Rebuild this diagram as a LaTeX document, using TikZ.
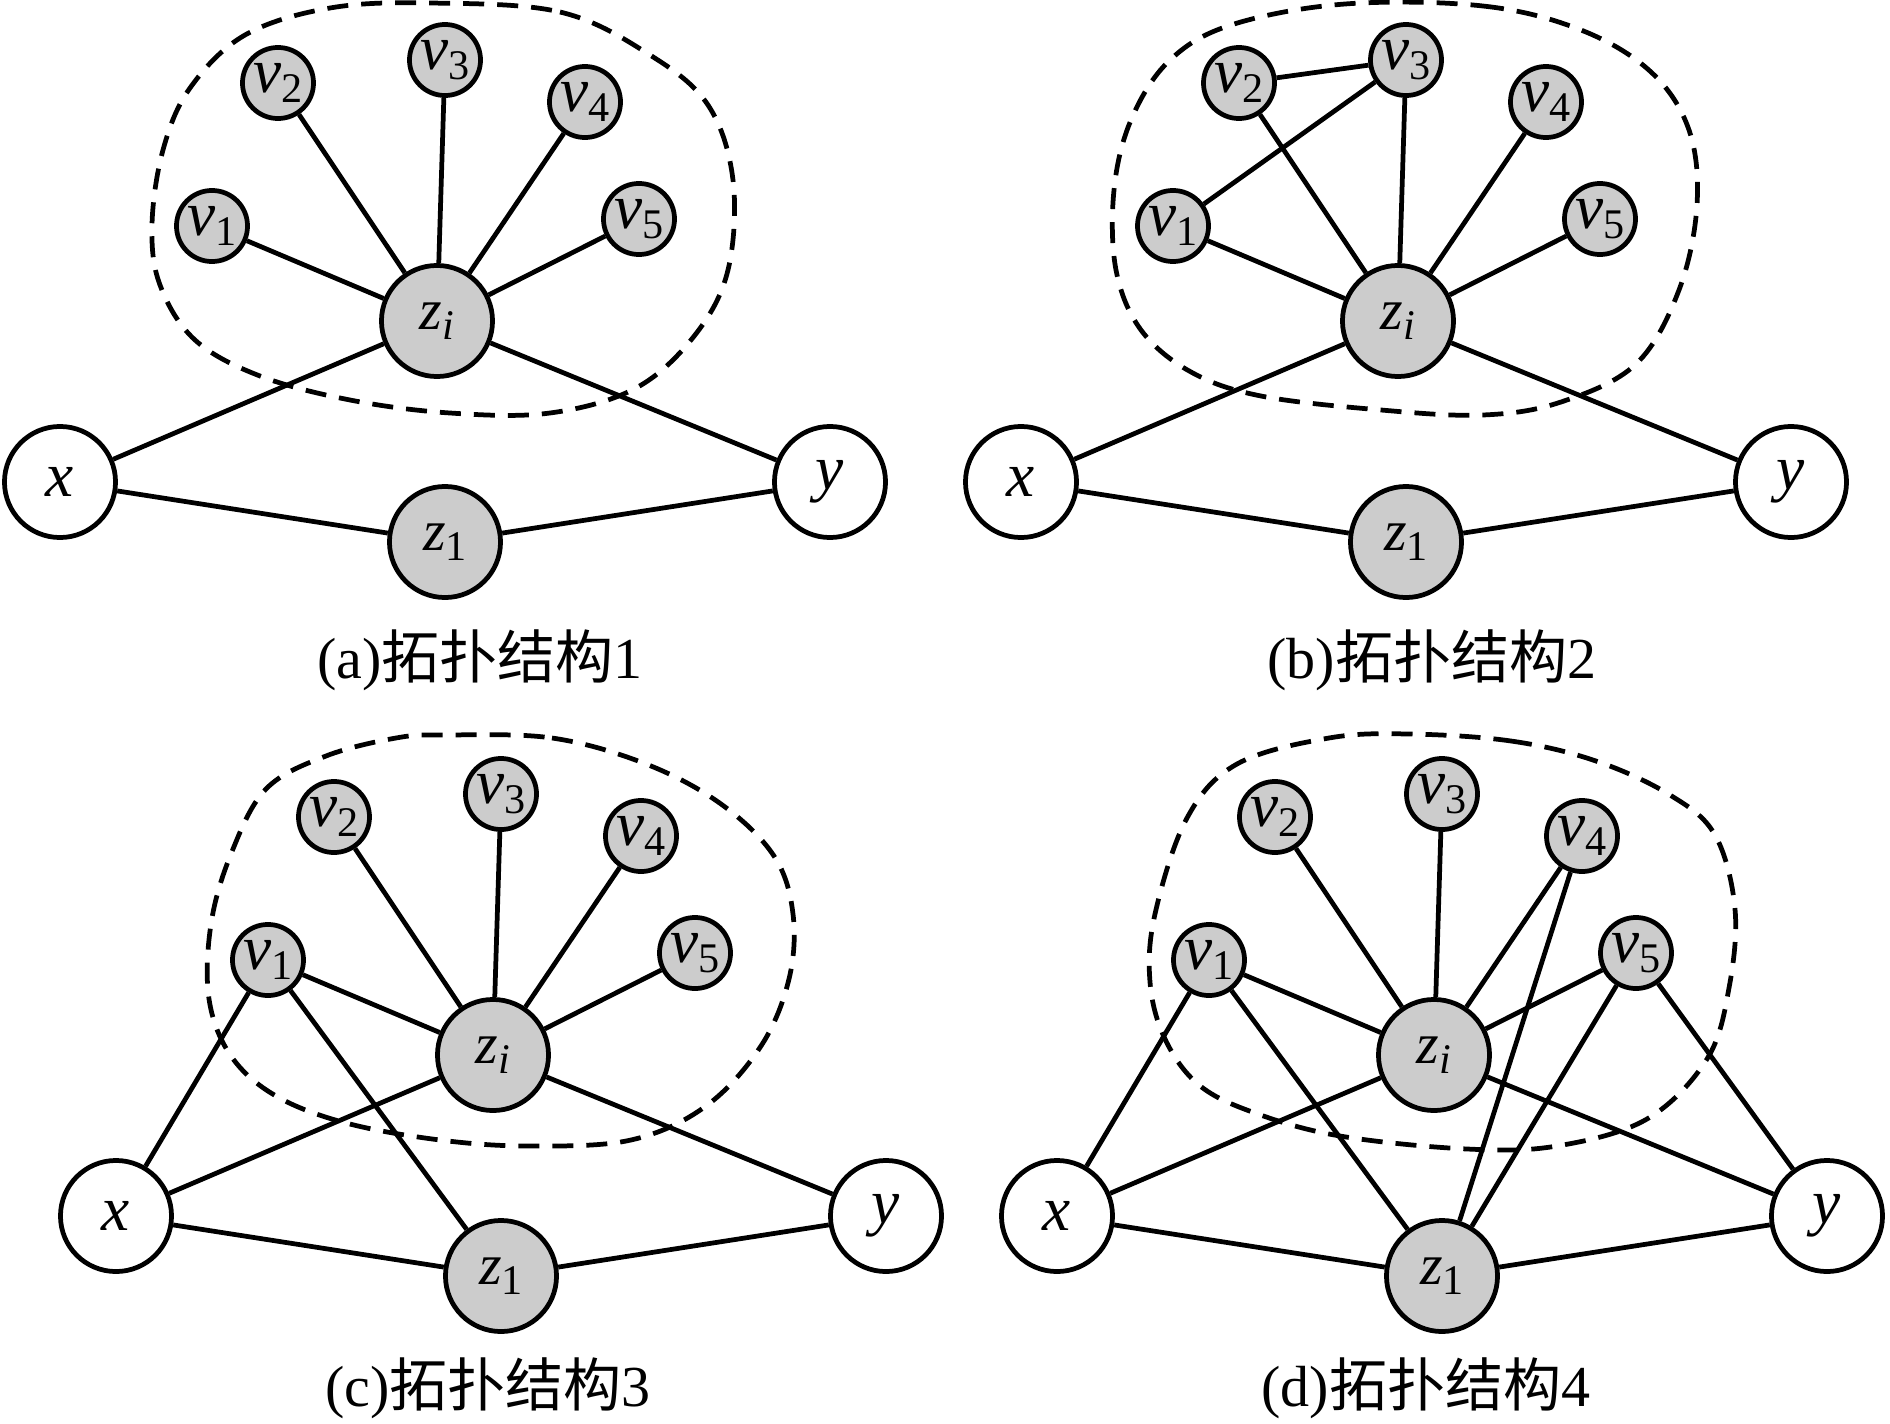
\documentclass[tikz,border=0pt]{standalone}
\usepackage{fontspec}
\setmainfont{Liberation Serif}
\newfontfamily\cjk{Noto Sans CJK SC}

% vertex labels
\newcommand{\vname}[1]{{\fontsize{18}{18}\selectfont\itshape v}\raisebox{-3pt}{\fontsize{12}{12}\selectfont #1}}
\newcommand{\zname}[1]{{\fontsize{16.5}{16.5}\selectfont\itshape z}\raisebox{-3pt}{\fontsize{12}{12}\selectfont #1}}
\newcommand{\tname}[1]{{\fontsize{18}{18}\selectfont\itshape #1}}

\begin{document}
\begin{tikzpicture}[
        x=0.01cm, y=-0.01cm,
        vertex/.style={circle, draw, line width=1.35pt, fill=black!20, inner sep=0pt, minimum size=0.71cm},
        hub/.style={vertex, minimum size=1.11cm},
        terminal/.style={hub, fill=white},
        edge/.style={line width=1.35pt},
        blob/.style={line width=1.35pt, dash pattern=on 0.21cm off 0.13cm},
        caption/.style={font=\fontsize{16.5}{18}\selectfont, inner sep=0pt}
    ]
    \useasboundingbox (0,0) rectangle (1890,1424);

    % --- Panel (a) ---
    \begin{scope}
    \node[terminal] (ax) at (60,482) {\tname{x}};
    \node[terminal] (ay) at (830,482) {\tname{y}};
    \node[hub] (az1) at (445,542) {\zname{1}};
    \node[hub] (azi) at (437,321) {\zname{\itshape i}};
    \node[vertex] (av1) at (212,226) {\vname{1}};
    \node[vertex] (av2) at (278,83) {\vname{2}};
    \node[vertex] (av3) at (445,60) {\vname{3}};
    \node[vertex] (av4) at (585,102) {\vname{4}};
    \node[vertex] (av5) at (639,219) {\vname{5}};

    \draw[edge] (azi) -- (av1);
    \draw[edge] (azi) -- (av2);
    \draw[edge] (azi) -- (av3);
    \draw[edge] (azi) -- (av4);
    \draw[edge] (azi) -- (av5);
    \draw[edge] (ax) -- (azi);
    \draw[edge] (azi) -- (ay);
    \draw[edge] (ax) -- (az1);
    \draw[edge] (az1) -- (ay);

    \draw[blob] plot[smooth cycle, tension=0.6] coordinates {(430,3) (560,12) (650,55) (708,105) (733,180)
        (728,270) (695,335) (636,388) (550,413) (450,413) (350,400) (260,376) (195,340)
        (160,285) (152,225) (163,150) (190,88) (245,35) (330,8)};

    \node[caption] (capa) at (480,660) {(a){\cjk 拓扑结构}1};
    \end{scope}

    % --- Panel (b) ---
    \begin{scope}[shift={(961,0)}]
    \node[terminal] (bx) at (60,482) {\tname{x}};
    \node[terminal] (by) at (830,482) {\tname{y}};
    \node[hub] (bz1) at (445,542) {\zname{1}};
    \node[hub] (bzi) at (437,321) {\zname{\itshape i}};
    \node[vertex] (bv1) at (212,226) {\vname{1}};
    \node[vertex] (bv2) at (278,83) {\vname{2}};
    \node[vertex] (bv3) at (445,60) {\vname{3}};
    \node[vertex] (bv4) at (585,102) {\vname{4}};
    \node[vertex] (bv5) at (639,219) {\vname{5}};

    \draw[edge] (bzi) -- (bv1);
    \draw[edge] (bzi) -- (bv2);
    \draw[edge] (bzi) -- (bv3);
    \draw[edge] (bzi) -- (bv4);
    \draw[edge] (bzi) -- (bv5);
    \draw[edge] (bx) -- (bzi);
    \draw[edge] (bzi) -- (by);
    \draw[edge] (bx) -- (bz1);
    \draw[edge] (bz1) -- (by);
    % extra links among the v's
    \draw[edge] (bv2) -- (bv3);
    \draw[edge] (bv1) -- (bv3);

    \draw[blob] plot[smooth cycle, tension=0.6] coordinates {(384,4) (522,6) (620,30) (690,72) (728,130)
        (736,205) (718,290) (675,364) (600,402) (522,415) (420,410) (300,396) (230,372)
        (180,330) (155,270) (153,190) (170,120) (208,61) (270,25)};

    \node[caption] (capb) at (471,660) {(b){\cjk 拓扑结构}2};
    \end{scope}

    % --- Panel (c) ---
    \begin{scope}[shift={(56,734)}]
    \node[terminal] (cx) at (60,482) {\tname{x}};
    \node[terminal] (cy) at (830,482) {\tname{y}};
    \node[hub] (cz1) at (445,542) {\zname{1}};
    \node[hub] (czi) at (437,321) {\zname{\itshape i}};
    \node[vertex] (cv1) at (212,226) {\vname{1}};
    \node[vertex] (cv2) at (278,83) {\vname{2}};
    \node[vertex] (cv3) at (445,60) {\vname{3}};
    \node[vertex] (cv4) at (585,102) {\vname{4}};
    \node[vertex] (cv5) at (639,219) {\vname{5}};

    \draw[edge] (czi) -- (cv1);
    \draw[edge] (czi) -- (cv2);
    \draw[edge] (czi) -- (cv3);
    \draw[edge] (czi) -- (cv4);
    \draw[edge] (czi) -- (cv5);
    \draw[edge] (cx) -- (czi);
    \draw[edge] (czi) -- (cy);
    \draw[edge] (cx) -- (cz1);
    \draw[edge] (cz1) -- (cy);
    % v1 tied to x and z1
    \draw[edge] (cx) -- (cv1);
    \draw[edge] (cv1) -- (cz1);

    \draw[blob] plot[smooth cycle, tension=0.6] coordinates {(389,1) (496,4) (590,30) (665,70) (718,122)
        (737,180) (733,245) (705,312) (650,372) (575,406) (473,412) (384,406) (290,389)
        (220,362) (175,322) (153,265) (155,190) (175,120) (210,55) (270,22) (340,4)};

    \node[caption] (capc) at (432,654) {(c){\cjk 拓扑结构}3};
    \end{scope}

    % --- Panel (d) ---
    \begin{scope}[shift={(997,734)}]
    \node[terminal] (dx) at (60,482) {\tname{x}};
    \node[terminal] (dy) at (830,482) {\tname{y}};
    \node[hub] (dz1) at (445,542) {\zname{1}};
    \node[hub] (dzi) at (437,321) {\zname{\itshape i}};
    \node[vertex] (dv1) at (212,226) {\vname{1}};
    \node[vertex] (dv2) at (278,83) {\vname{2}};
    \node[vertex] (dv3) at (445,60) {\vname{3}};
    \node[vertex] (dv4) at (585,102) {\vname{4}};
    \node[vertex] (dv5) at (639,219) {\vname{5}};

    \draw[edge] (dzi) -- (dv1);
    \draw[edge] (dzi) -- (dv2);
    \draw[edge] (dzi) -- (dv3);
    \draw[edge] (dzi) -- (dv4);
    \draw[edge] (dzi) -- (dv5);
    \draw[edge] (dx) -- (dzi);
    \draw[edge] (dzi) -- (dy);
    \draw[edge] (dx) -- (dz1);
    \draw[edge] (dz1) -- (dy);
    % links from v1, v4, v5 down to x, y and z1
    \draw[edge] (dx) -- (dv1);
    \draw[edge] (dv1) -- (dz1);
    \draw[edge] (dv4) -- (dz1);
    \draw[edge] (dv5) -- (dz1);
    \draw[edge] (dv5) -- (dy);

    \draw[blob] plot[smooth cycle, tension=0.6] coordinates {(412,0) (514,7) (599,27) (673,61) (718,101)
        (738,175) (732,254) (710,325) (650,385) (560,412) (470,415) (343,402) (258,379)
        (202,351) (168,305) (153,248) (158,180) (190,84) (240,30) (332,4)};

    \node[caption] (capd) at (429,654) {(d){\cjk 拓扑结构}4};
    \end{scope}

\end{tikzpicture}
\end{document}
